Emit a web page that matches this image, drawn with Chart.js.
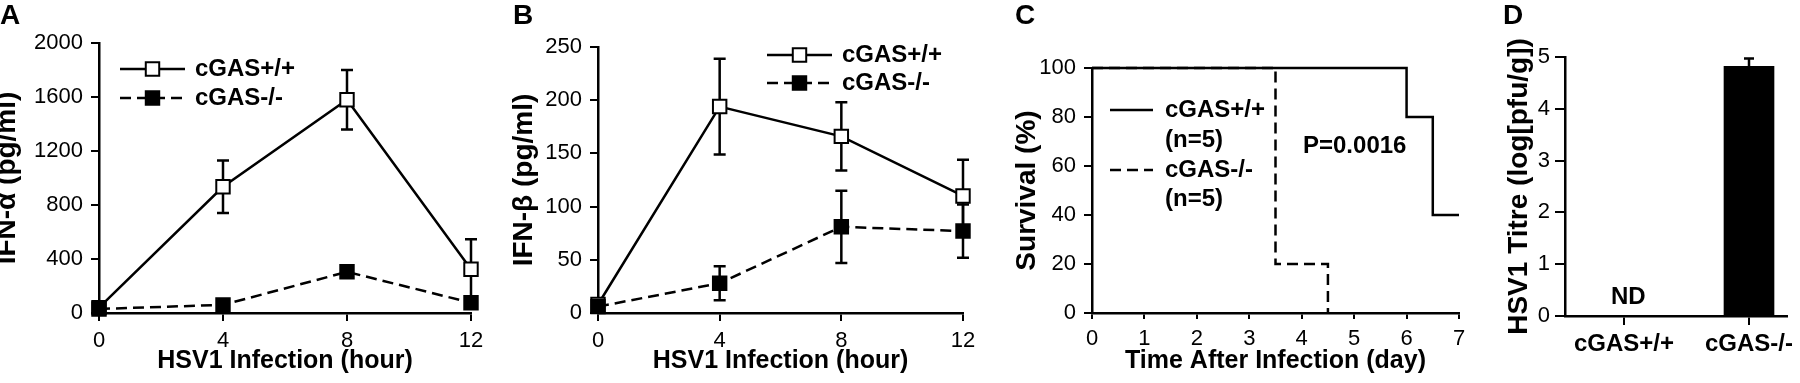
<!DOCTYPE html>
<html>
<head>
<meta charset="utf-8">
<script src="https://cdn.jsdelivr.net/npm/chart.js@4.4.1/dist/chart.umd.min.js"></script>
<style>
  html, body { margin: 0; padding: 0; background: #fff; }
  body { width: 1800px; height: 383px; position: relative; overflow: hidden;
         font-family: "Liberation Sans", Arial, Helvetica, sans-serif; color: #000; }
  .cv { position: absolute; top: 0; }
  .txt { position: absolute; font-weight: bold; line-height: 1; white-space: nowrap; }
  .panel-letter { font-size: 28px; top: 1px; }
</style>
</head>
<body>
<canvas id="chartA" class="cv" style="left:0px" width="500" height="383"></canvas>
<canvas id="chartB" class="cv" style="left:500px" width="490" height="383"></canvas>
<canvas id="chartC" class="cv" style="left:990px" width="490" height="383"></canvas>
<canvas id="chartD" class="cv" style="left:1480px" width="320" height="383"></canvas>

<div class="txt panel-letter" style="left:0px">A</div>
<div class="txt panel-letter" style="left:513px">B</div>
<div class="txt panel-letter" style="left:1015px">C</div>
<div class="txt panel-letter" style="left:1503px">D</div>
<div class="txt" id="pval" style="left:1303px; top:133px; font-size:24px"></div>
<div class="txt" id="ndText" style="left:1611px; top:284px; font-size:24px"></div>

<script>
// ---------------- data ----------------
const hours = [0, 4, 8, 12];
const hourTicks = [0, 4, 8, 12];
const seriesLabels = ['cGAS+/+', 'cGAS-/-'];

const ifnAlphaWT    = [40, 935, 1580, 324];
const ifnAlphaWTErr = [12, 195, 220, 222];
const ifnAlphaKO    = [30, 60, 305, 76];
const ifnAlphaKOErr = [8, 15, 25, 22];
const ifnAlphaTicks = [0, 400, 800, 1200, 1600, 2000];

const ifnBetaWT    = [8, 194, 166, 110];
const ifnBetaWTErr = [3, 45, 32, 34];
const ifnBetaKO    = [6, 28, 81, 77];
const ifnBetaKOErr = [3, 16, 34, 25];
const ifnBetaTicks = [0, 50, 100, 150, 200, 250];

const survivalDaysWT = [0, 6, 6.5, 7];
const survivalWT     = [100, 80, 40, 40];
const survivalDaysKO = [0, 3.5, 4.5];
const survivalKO     = [100, 20, 0];
const survivalN      = [5, 5];
const dayTicks       = [0, 1, 2, 3, 4, 5, 6, 7];
const survivalTicks  = [0, 20, 40, 60, 80, 100];
const pValueText     = 'P=0.0016';

const titreGroups = ['cGAS+/+', 'cGAS-/-'];
const titreValues = [null, 4.82];
const titreErr    = [0, 0.15];
const titreTicks  = [0, 1, 2, 3, 4, 5];
const notDetectedText = 'ND';

// ---------------- helpers ----------------
const FONT = '"Liberation Sans", Arial, Helvetica, sans-serif';
const LW = 2.5;
document.getElementById('pval').textContent = pValueText;
document.getElementById('ndText').textContent = notDetectedText;

function axis(o) {
  return {
    type: 'linear',
    min: o.min, max: o.max,
    offset: false,
    afterBuildTicks: s => { s.ticks = o.ticks.map(v => ({ value: v })); },
    afterFit: s => {
      if (s.isHorizontal()) s.height = o.size; else s.width = o.size;
      s.paddingLeft = 0; s.paddingRight = 0; s.paddingTop = 0; s.paddingBottom = 0;
    },
    grid: { display: true, drawOnChartArea: false, drawTicks: true, offset: false,
            tickLength: o.tickLength || 8, color: '#000', lineWidth: 2 },
    border: { display: true, color: '#000', width: LW },
    ticks: {
      color: '#000', padding: o.tickPad, autoSkip: false, maxRotation: 0, minRotation: 0,
      font: { family: FONT, size: o.tickSize || 22, weight: o.tickWeight || 'normal' },
      callback: o.cb || (v => String(v))
    },
    title: {
      display: !!o.title, text: o.title || '', color: '#000',
      font: { family: FONT, size: o.titleSize || 25, weight: 'bold', lineHeight: o.titleLH || 0.8 },
      padding: o.titlePad
    }
  };
}

const errorBars = {
  id: 'errorBars',
  beforeDatasetsDraw(chart, args, opts) {
    const ctx = chart.ctx;
    chart.data.datasets.forEach((ds, i) => {
      if (!ds.errors) return;
      const meta = chart.getDatasetMeta(i);
      const ys = chart.scales[meta.yAxisID];
      meta.data.forEach((el, j) => {
        const raw = ds.data[j];
        const v = raw && typeof raw === 'object' ? raw.y : raw;
        const e = ds.errors[j];
        if (v == null || !e) return;
        const yTop = ys.getPixelForValue(v + e);
        const yBot = ys.getPixelForValue(ds.errorUpOnly ? v : v - e);
        const c = opts.cap || 6;
        ctx.save();
        ctx.strokeStyle = '#000'; ctx.lineWidth = LW; ctx.setLineDash([]);
        ctx.beginPath();
        ctx.moveTo(el.x, yTop); ctx.lineTo(el.x, yBot);
        ctx.moveTo(el.x - c, yTop); ctx.lineTo(el.x + c, yTop);
        if (!ds.errorUpOnly) { ctx.moveTo(el.x - c, yBot); ctx.lineTo(el.x + c, yBot); }
        ctx.stroke();
        ctx.restore();
      });
    });
  }
};

const customLegend = {
  id: 'customLegend',
  afterDraw(chart, args, opts) {
    if (!opts || !opts.rows) return;
    const ctx = chart.ctx;
    ctx.save();
    opts.rows.forEach(row => {
      if (row.dataset != null) {
        const ds = chart.data.datasets[row.dataset];
        ctx.beginPath();
        ctx.setLineDash(ds.borderDash || []);
        ctx.lineWidth = ds.borderWidth;
        ctx.strokeStyle = ds.borderColor;
        ctx.moveTo(opts.x0, row.y); ctx.lineTo(opts.x1, row.y);
        ctx.stroke();
        ctx.setLineDash([]);
        if (ds.pointRadius > 0) {
          ctx.fillStyle = ds.pointBackgroundColor;
          ctx.strokeStyle = ds.pointBorderColor;
          ctx.lineWidth = ds.pointBorderWidth;
          Chart.helpers.drawPoint(ctx, { pointStyle: ds.pointStyle, radius: ds.pointRadius,
            borderWidth: ds.pointBorderWidth, rotation: 0 }, (opts.x0 + opts.x1) / 2, row.y);
        }
      }
      ctx.fillStyle = '#000';
      ctx.font = 'bold 24px ' + FONT;
      ctx.textBaseline = 'middle';
      ctx.textAlign = 'left';
      ctx.fillText(row.text, opts.textX, row.y);
    });
    ctx.restore();
  }
};

function pts(xs, ys) { return xs.map((x, i) => ({ x: x, y: ys[i] })); }

function seriesDs(label, xs, ys, errs, filled, dashed, order) {
  return {
    label: label, data: pts(xs, ys), errors: errs, order: order,
    borderColor: '#000', borderWidth: LW, borderDash: dashed ? [11, 6] : [],
    tension: 0, fill: false, clip: false,
    pointStyle: 'rect', pointRadius: 9.5, pointHoverRadius: 9.5,
    pointBackgroundColor: filled ? '#000' : '#fff', pointBorderColor: '#000', pointBorderWidth: 2
  };
}

const baseOpts = (padding) => ({
  responsive: false, animation: false, devicePixelRatio: 1,
  layout: { padding: padding },
  events: [],
});

// ---------------- Panel A ----------------
const A_LEFT = 0;
new Chart(document.getElementById('chartA'), {
  type: 'line',
  data: { datasets: [
    seriesDs(seriesLabels[0], hours, ifnAlphaWT, ifnAlphaWTErr, false, false, 1),
    seriesDs(seriesLabels[1], hours, ifnAlphaKO, ifnAlphaKOErr, true, true, 0)
  ]},
  options: Object.assign(baseOpts({ left: 0, top: 43, right: 29, bottom: 0 }), {
    scales: {
      x: axis({ min: 0, max: 12, ticks: hourTicks, size: 70, tickPad: 7,
                title: 'HSV1 Infection (hour)', titlePad: { bottom: 12 } }),
      y: axis({ min: 0, max: 2000, ticks: ifnAlphaTicks, size: 99, tickPad: 8,
                title: 'IFN-\u03b1 (pg/ml)', titleSize: 28, titleLH: 0.5, titlePad: { top: 0.5 } })
    },
    plugins: {
      legend: { display: false }, tooltip: { enabled: false },
      errorBars: { cap: 6 },
      customLegend: { x0: 120 - A_LEFT, x1: 185 - A_LEFT, textX: 195 - A_LEFT, rows: [
        { dataset: 0, y: 69, text: seriesLabels[0] },
        { dataset: 1, y: 98, text: seriesLabels[1] } ] }
    }
  }),
  plugins: [errorBars, customLegend]
});

// ---------------- Panel B ----------------
const B_LEFT = 500;
new Chart(document.getElementById('chartB'), {
  type: 'line',
  data: { datasets: [
    seriesDs(seriesLabels[0], hours, ifnBetaWT, ifnBetaWTErr, false, false, 1),
    seriesDs(seriesLabels[1], hours, ifnBetaKO, ifnBetaKOErr, true, true, 0)
  ]},
  options: Object.assign(baseOpts({ left: 0, top: 47, right: 27, bottom: 0 }), {
    scales: {
      x: axis({ min: 0, max: 12, ticks: hourTicks, size: 70, tickPad: 7,
                title: 'HSV1 Infection (hour)', titlePad: { bottom: 12 } }),
      y: axis({ min: 0, max: 250, ticks: ifnBetaTicks, size: 98, tickPad: 8,
                title: 'IFN-\u03b2 (pg/ml)', titleSize: 28, titleLH: 0.5, titlePad: { top: 17 } })
    },
    plugins: {
      legend: { display: false }, tooltip: { enabled: false },
      errorBars: { cap: 6 },
      customLegend: { x0: 767 - B_LEFT, x1: 832 - B_LEFT, textX: 842 - B_LEFT, rows: [
        { dataset: 0, y: 55, text: seriesLabels[0] },
        { dataset: 1, y: 83, text: seriesLabels[1] } ] }
    }
  }),
  plugins: [errorBars, customLegend]
});

// ---------------- Panel C ----------------
const C_LEFT = 990;
function stepDs(label, xs, ys, dashed, order) {
  return {
    label: label, data: pts(xs, ys), order: order, stepped: true,
    borderColor: '#000', borderWidth: LW, borderDash: dashed ? [11, 6] : [],
    fill: false, clip: false, pointRadius: 0, pointHoverRadius: 0
  };
}
new Chart(document.getElementById('chartC'), {
  type: 'line',
  data: { datasets: [
    stepDs(seriesLabels[0], survivalDaysWT, survivalWT, false, 1),
    stepDs(seriesLabels[1], survivalDaysKO, survivalKO, true, 0)
  ]},
  options: Object.assign(baseOpts({ left: 0, top: 68, right: 21, bottom: 0 }), {
    scales: {
      x: axis({ min: 0, max: 7, ticks: dayTicks, size: 70, tickPad: 7, tickLength: 6,
                title: 'Time After Infection (day)', titlePad: { bottom: 12 } }),
      y: axis({ min: 0, max: 100, ticks: survivalTicks, size: 102, tickPad: 8, tickLength: 8,
                title: 'Survival (%)', titleSize: 28, titleLH: 0.5, titlePad: { top: 30 } })
    },
    plugins: {
      legend: { display: false }, tooltip: { enabled: false },
      customLegend: { x0: 1110 - C_LEFT, x1: 1153 - C_LEFT, textX: 1165 - C_LEFT, rows: [
        { dataset: 0, y: 110, text: seriesLabels[0] },
        { y: 140, text: '(n=' + survivalN[0] + ')' },
        { dataset: 1, y: 170, text: seriesLabels[1] },
        { y: 199, text: '(n=' + survivalN[1] + ')' } ] }
    }
  }),
  plugins: [customLegend]
});

// ---------------- Panel D ----------------
new Chart(document.getElementById('chartD'), {
  type: 'bar',
  data: { datasets: [{
    label: 'HSV1 titre',
    data: titreGroups.map((g, i) => ({ x: i, y: titreValues[i] })),
    errors: titreErr, errorUpOnly: true,
    backgroundColor: '#000', borderColor: '#000', borderWidth: 0,
    barThickness: 50
  }]},
  options: Object.assign(baseOpts({ left: 0, top: 57, right: 13, bottom: 0 }), {
    scales: {
      x: axis({ min: -0.472, max: 1.304, ticks: [0, 1], size: 67, tickPad: 5, tickLength: 9,
                tickSize: 24, tickWeight: 'bold', cb: v => titreGroups[v] }),
      y: axis({ min: 0, max: 5, ticks: titreTicks, size: 85, tickPad: 5, tickLength: 10,
                title: 'HSV1 Titre (log[pfu/g])', titleSize: 28, titleLH: 0.5, titlePad: { top: 32 } })
    },
    plugins: {
      legend: { display: false }, tooltip: { enabled: false },
      errorBars: { cap: 5 }
    }
  }),
  plugins: [errorBars]
});
</script>
</body>
</html>
